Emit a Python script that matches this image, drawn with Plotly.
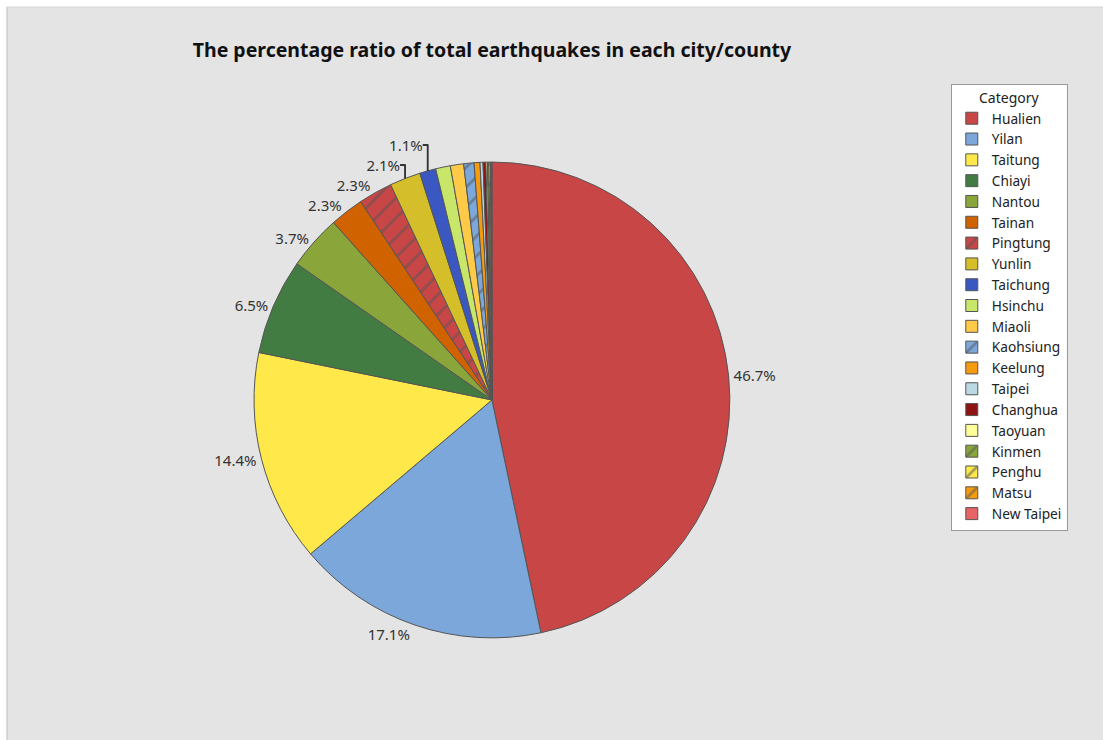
import plotly.graph_objects as go

# Share of total earthquakes by city/county (%)
cities = ["Hualien", "Yilan", "Taitung", "Chiayi", "Nantou", "Tainan", "Pingtung",
          "Yunlin", "Taichung", "Hsinchu", "Miaoli", "Kaohsiung", "Keelung", "Taipei",
          "Changhua", "Taoyuan", "Kinmen", "Penghu", "Matsu", "New Taipei"]
shares = [46.7, 17.1, 14.4, 6.5, 3.7, 2.3, 2.3, 2.1, 1.1, 1.0, 0.9, 0.7, 0.4, 0.2,
          0.2, 0.1, 0.1, 0.1, 0.05, 0.05]
# only the larger slices carry a percentage label
label_min = 1.1

colors = ["#C84646", "#7BA7DA", "#FFE94A", "#437C43", "#8AA63A", "#D06300", "#C84646",
          "#D4BE2A", "#3A57C2", "#C8E66A", "#FFCA48", "#7BA7DA", "#F59B0F", "#BBD9E3",
          "#8E1313", "#FFFF9A", "#8AA63A", "#FFE94A", "#F59B0F", "#E66464"]
hatched = {"Pingtung", "Kaohsiung", "Kinmen", "Penghu", "Matsu"}
shapes = ["/" if c in hatched else "" for c in cities]

texts = [f"{v:.1f}%" if v >= label_min else "" for v in shares]

fig = go.Figure(go.Pie(
    labels=cities,
    values=shares,
    text=texts,
    textinfo="text",
    textposition="outside",
    sort=False,
    direction="clockwise",
    rotation=0,
    marker=dict(
        colors=colors,
        line=dict(color="#555555", width=1),
        pattern=dict(shape=shapes, fgcolor="#555555", size=14, solidity=0.2,
                     fillmode="overlay"),
    ),
    textfont=dict(family="Noto Sans, Open Sans, sans-serif", size=15, color="#333333"),
    domain=dict(x=[0.230, 0.662], y=[0.138, 0.781]),
    hoverinfo="label+value",
))

fig.update_layout(
    width=1103,
    height=740,
    margin=dict(l=0, r=0, t=0, b=0),
    paper_bgcolor="#E4E4E4",
    font=dict(family="Noto Sans, Open Sans, sans-serif", color="#222222"),
    title=dict(
        text="<b>The percentage ratio of total earthquakes in each city/county</b>",
        x=0.446, xanchor="center", y=0.932, yanchor="middle",
        font=dict(size=19.5, color="#111111"),
    ),
    legend=dict(
        x=0.862, xanchor="left", y=0.887, yanchor="top",
        bgcolor="#FFFFFF", bordercolor="#999999", borderwidth=1,
        font=dict(size=13.7, color="#222222"),
        title=dict(text="Category", side="top center", font=dict(size=14)),
        traceorder="normal",
        itemclick=False,
        entrywidth=96,
    ),
    shapes=[
        # white outer frame strip along top and left edges
        dict(type="rect", xref="paper", yref="paper", x0=0, x1=1, y0=1 - 7 / 740, y1=1,
             fillcolor="#FFFFFF", line=dict(width=0), layer="below"),
        dict(type="rect", xref="paper", yref="paper", x0=0, x1=7 / 1103, y0=0, y1=1,
             fillcolor="#FFFFFF", line=dict(width=0), layer="below"),
        dict(type="line", xref="paper", yref="paper", x0=7 / 1103, x1=7 / 1103,
             y0=0, y1=1 - 7 / 740, line=dict(color="#BDBDBD", width=1)),
        dict(type="line", xref="paper", yref="paper", x0=7 / 1103, x1=1,
             y0=1 - 7 / 740, y1=1 - 7 / 740, line=dict(color="#D6D6D6", width=1)),
    ],
)

fig.write_html("out.html")
